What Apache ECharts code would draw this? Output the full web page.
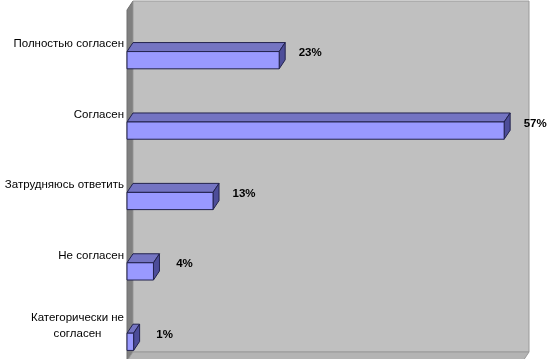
<!DOCTYPE html>
<html>
<head>
<meta charset="utf-8">
<script src="https://cdn.jsdelivr.net/npm/echarts@6/dist/echarts.min.js"></script>
<style>
html,body{margin:0;padding:0;background:#fff;}
#chart{width:550px;height:359px;}
</style>
</head>
<body>
<div id="chart"></div>
<script>
var categories = ['Полностью согласен', 'Согласен', 'Затрудняюсь ответить', 'Не согласен', 'Категорически не\nсогласен'];
var values = [23, 57, 13, 4, 1];
var valueLabels = ['23%', '57%', '13%', '4%', '1%'];

var DX = 6, DY = -9;
var FONT = '"Liberation Sans", Arial, sans-serif';

var chart = echarts.init(document.getElementById('chart'), null, {renderer: 'canvas'});

var option = {
  animation: false,
  backgroundColor: '#ffffff',
  grid: {left: 127, width: 397, top: 25, height: 352, containLabel: false, outerBoundsMode: 'none'},
  xAxis: {
    type: 'value', min: 0, max: 60,
    axisLine: {show: false}, axisTick: {show: false},
    axisLabel: {show: false}, splitLine: {show: false}
  },
  yAxis: {
    type: 'category', inverse: true, data: categories,
    axisLine: {show: false}, axisTick: {show: false}, splitLine: {show: false},
    axisLabel: {
      margin: 3,
      color: '#000',
      fontFamily: FONT,
      fontSize: 11.5,
      padding: [0, 0, 32, 0],
      formatter: function (v) {
        if (v.indexOf('\n') >= 0) {
          return v.split('\n').map(function (s) { return '{m|' + s + '}'; }).join('\n');
        }
        return v;
      },
      rich: {
        m: {align: 'center', fontFamily: FONT, fontSize: 11.5, color: '#000', lineHeight: 16}
      }
    }
  },
  graphic: [
    {type: 'polygon', z: 0, silent: true,
     shape: {points: [[127, 10], [133, 1], [133, 352], [127, 361]]},
     style: {fill: '#808080', stroke: '#6e6e6e', lineWidth: 1}},
    {type: 'rect', z: 0, silent: true,
     shape: {x: 133, y: 1, width: 396, height: 351},
     style: {fill: '#c0c0c0', stroke: '#9a9a9a', lineWidth: 1}},
    {type: 'polygon', z: 0, silent: true,
     shape: {points: [[127, 361], [133, 352], [529, 352], [523, 361]]},
     style: {fill: '#b4b4b4', stroke: '#9a9a9a', lineWidth: 1}}
  ],
  series: [{
    type: 'custom',
    z: 5,
    data: values.map(function (v, i) { return [v, i]; }),
    encode: {x: 0, y: 1},
    renderItem: function (params, api) {
      var v = api.value(0), idx = api.value(1);
      var p0 = api.coord([0, idx]);
      var p1 = api.coord([v, idx]);
      var band = api.size([0, 1])[1];
      var h = band * 0.245;
      var yT = p0[1] - h / 2, yB = p0[1] + h / 2;
      var x0 = p0[0], x1 = p1[0];
      var stroke = '#22224d';
      return {
        type: 'group',
        children: [
          {type: 'polygon',
           shape: {points: [[x0, yT], [x1, yT], [x1 + DX, yT + DY], [x0 + DX, yT + DY]]},
           style: {fill: '#7474c2', stroke: stroke, lineWidth: 1}},
          {type: 'polygon',
           shape: {points: [[x1, yT], [x1 + DX, yT + DY], [x1 + DX, yB + DY], [x1, yB]]},
           style: {fill: '#4d4d99', stroke: stroke, lineWidth: 1}},
          {type: 'rect',
           shape: {x: x0, y: yT, width: x1 - x0, height: h},
           style: {fill: '#9999ff', stroke: stroke, lineWidth: 1}},
          {type: 'text', x: x1 + 31, y: yT + 1.5,
           style: {text: valueLabels[idx], font: 'bold 11.5px ' + FONT, fill: '#000',
                   align: 'center', verticalAlign: 'middle'}}
        ]
      };
    }
  }]
};
chart.setOption(option);
</script>
</body>
</html>
